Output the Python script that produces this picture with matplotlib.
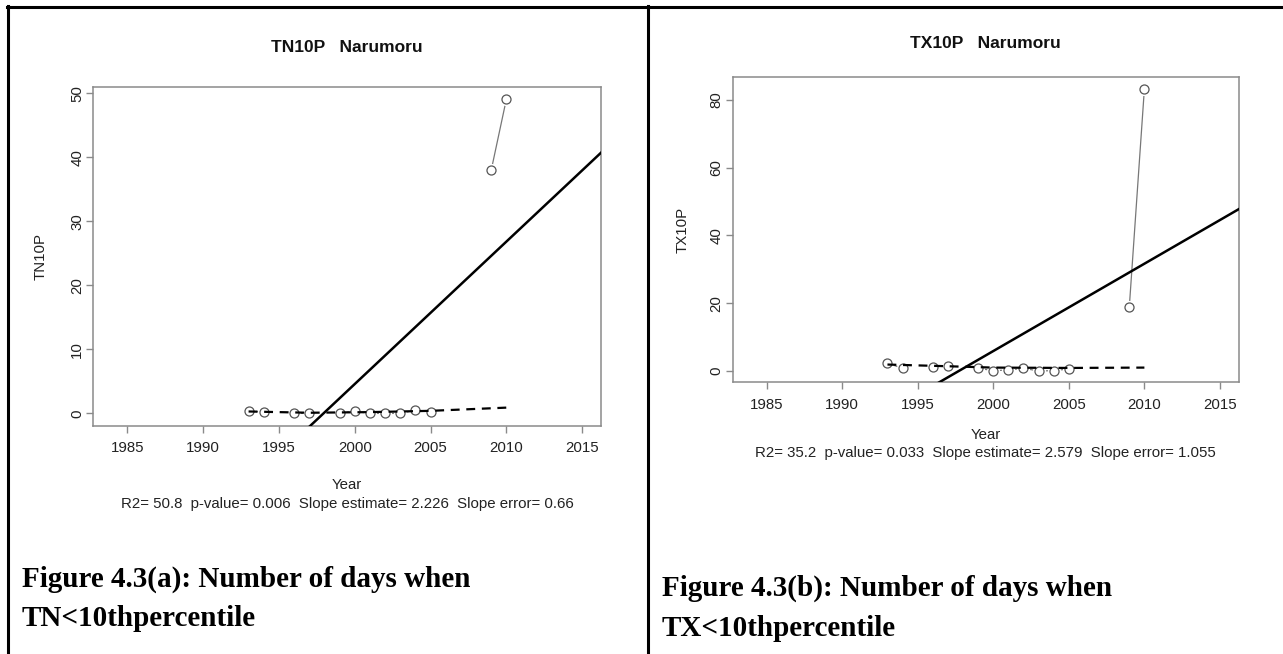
import numpy as np
import matplotlib
matplotlib.use("Agg")
import matplotlib.pyplot as plt

# ---------------- data ----------------
years = np.arange(1993, 2011)

# TN10P (nights below 10th percentile), NaN = missing year
tn10p = [0.4, 0.2, np.nan, 0.0, 0.0, np.nan, 0.1, 0.3, 0.0, 0.0, 0.0, 0.5, 0.2,
         np.nan, np.nan, np.nan, 38.0, 49.1]
# TX10P (days below 10th percentile)
tx10p = [2.3, 0.8, np.nan, 1.3, 1.6, np.nan, 0.8, 0.1, 0.3, 0.8, 0.0, 0.1, 0.6,
         np.nan, np.nan, np.nan, 18.8, 83.3]

# smoothed (lowess) curves
tn_smooth_x = [1993, 1997, 2001, 2005, 2010]
tn_smooth_y = [0.3, 0.1, 0.2, 0.4, 0.9]
tx_smooth_x = [1993, 1997, 2000, 2005, 2010]
tx_smooth_y = [1.9, 1.4, 1.0, 0.9, 1.0]

# least squares trend: slope and the year where it crosses zero
tn_stats = dict(r2=50.8, p=0.006, slope=2.226, err=0.66, x0=1997.94)
tx_stats = dict(r2=35.2, p=0.033, slope=2.579, err=1.055, x0=1997.72)

tn_yticks = [0, 10, 20, 30, 40, 50]
tx_yticks = [0, 20, 40, 60, 80]
xticks = [1985, 1990, 1995, 2000, 2005, 2010, 2015]

RFONT = "Liberation Sans"
FS = 10.8

W, H = 1283, 654
fig = plt.figure(figsize=(W / 100, H / 100), dpi=100)


def box(l, t, r, b):
    return [l / W, 1 - b / H, (r - l) / W, (b - t) / H]


def at(x, y, s, **kw):
    # text placed in pixel coordinates from the top-left corner
    return fig.text(x / W, 1 - y / H, s, ha="center", va="center", **kw)


def panel(rect, name, vals, sx, sy, st, yticks, ylim, title_y, xlab_y, stat_y, ylab_x):
    ax = fig.add_axes(box(*rect))
    xlim = (1982.76, 2016.24)
    v = np.array(vals, dtype=float)
    # type="b": thin grey joins, gap round each point
    ax.plot(years, v, color="#777777", lw=0.9, zorder=2)
    ax.plot(years, v, "o", ms=9.5, mfc="white", mec="none", zorder=3)
    ax.plot(years, v, "o", ms=6.5, mfc="white", mec="#555555", mew=0.9, zorder=4)
    ax.plot(sx, sy, color="black", lw=1.6, ls=(0, (4, 3)), zorder=5)
    xx = np.array(xlim)
    ax.plot(xx, st["slope"] * (xx - st["x0"]), color="black", lw=1.8, zorder=6)

    ax.set_xlim(*xlim)
    ax.set_ylim(*ylim)
    ax.set_xticks(xticks)
    ax.set_yticks(yticks)
    ax.set_yticklabels([str(t) for t in yticks], rotation=90, va="center")
    for s in ax.spines.values():
        s.set_color("#8a8a8a")
        s.set_linewidth(1.1)
    ax.tick_params(axis="both", colors="#8a8a8a", length=5, width=1.0,
                   labelcolor="#222222", labelsize=FS)
    ax.tick_params(axis="x", pad=6)
    ax.tick_params(axis="y", pad=1.5)
    for lab in ax.get_xticklabels() + ax.get_yticklabels():
        lab.set_family(RFONT)

    cx = (rect[0] + rect[2]) / 2
    cy = (rect[1] + rect[3]) / 2
    at(cx, title_y, name + "   Narumoru", fontsize=12.5, fontweight="bold",
       family=RFONT, color="#111111")
    at(ylab_x, cy, name, fontsize=FS, family=RFONT, color="#222222", rotation=90)
    at(cx, xlab_y, "Year", fontsize=FS, family=RFONT, color="#222222")
    txt = "R2= {}  p-value= {}  Slope estimate= {}  Slope error= {}".format(
        st["r2"], st["p"], st["slope"], st["err"])
    at(cx, stat_y, txt, fontsize=FS, family=RFONT, color="#222222")
    return ax


panel((93.3, 86.7, 601, 426), "TN10P", tn10p, tn_smooth_x, tn_smooth_y, tn_stats,
      tn_yticks, (-1.97, 51.05), 48, 485, 504, 41)
panel((732.7, 77.3, 1238.7, 382.3), "TX10P", tx10p, tx_smooth_x, tx_smooth_y, tx_stats,
      tx_yticks, (-3.34, 86.7), 43, 435, 453, 683)

# document table borders
fig.add_artist(plt.Line2D([7.5 / W, 7.5 / W], [0, 1 - 6 / H], color="black", lw=2.2))
fig.add_artist(plt.Line2D([6.5 / W, 1], [1 - 7 / H, 1 - 7 / H], color="black", lw=2.2))
fig.add_artist(plt.Line2D([648 / W, 648 / W], [0, 1 - 6 / H], color="black", lw=2.2))

# figure captions
cap = dict(fontsize=21, fontweight="bold", family="Liberation Serif", ha="left",
           va="center", color="black")
fig.text(22 / W, 1 - 579 / H, "Figure 4.3(a): Number of days when", **cap)
fig.text(22 / W, 1 - 618 / H, "TN<10thpercentile", **cap)
fig.text(662 / W, 1 - 588 / H, "Figure 4.3(b): Number of days when", **cap)
fig.text(662 / W, 1 - 628 / H, "TX<10thpercentile", **cap)

fig.savefig("out.png", dpi=100)
